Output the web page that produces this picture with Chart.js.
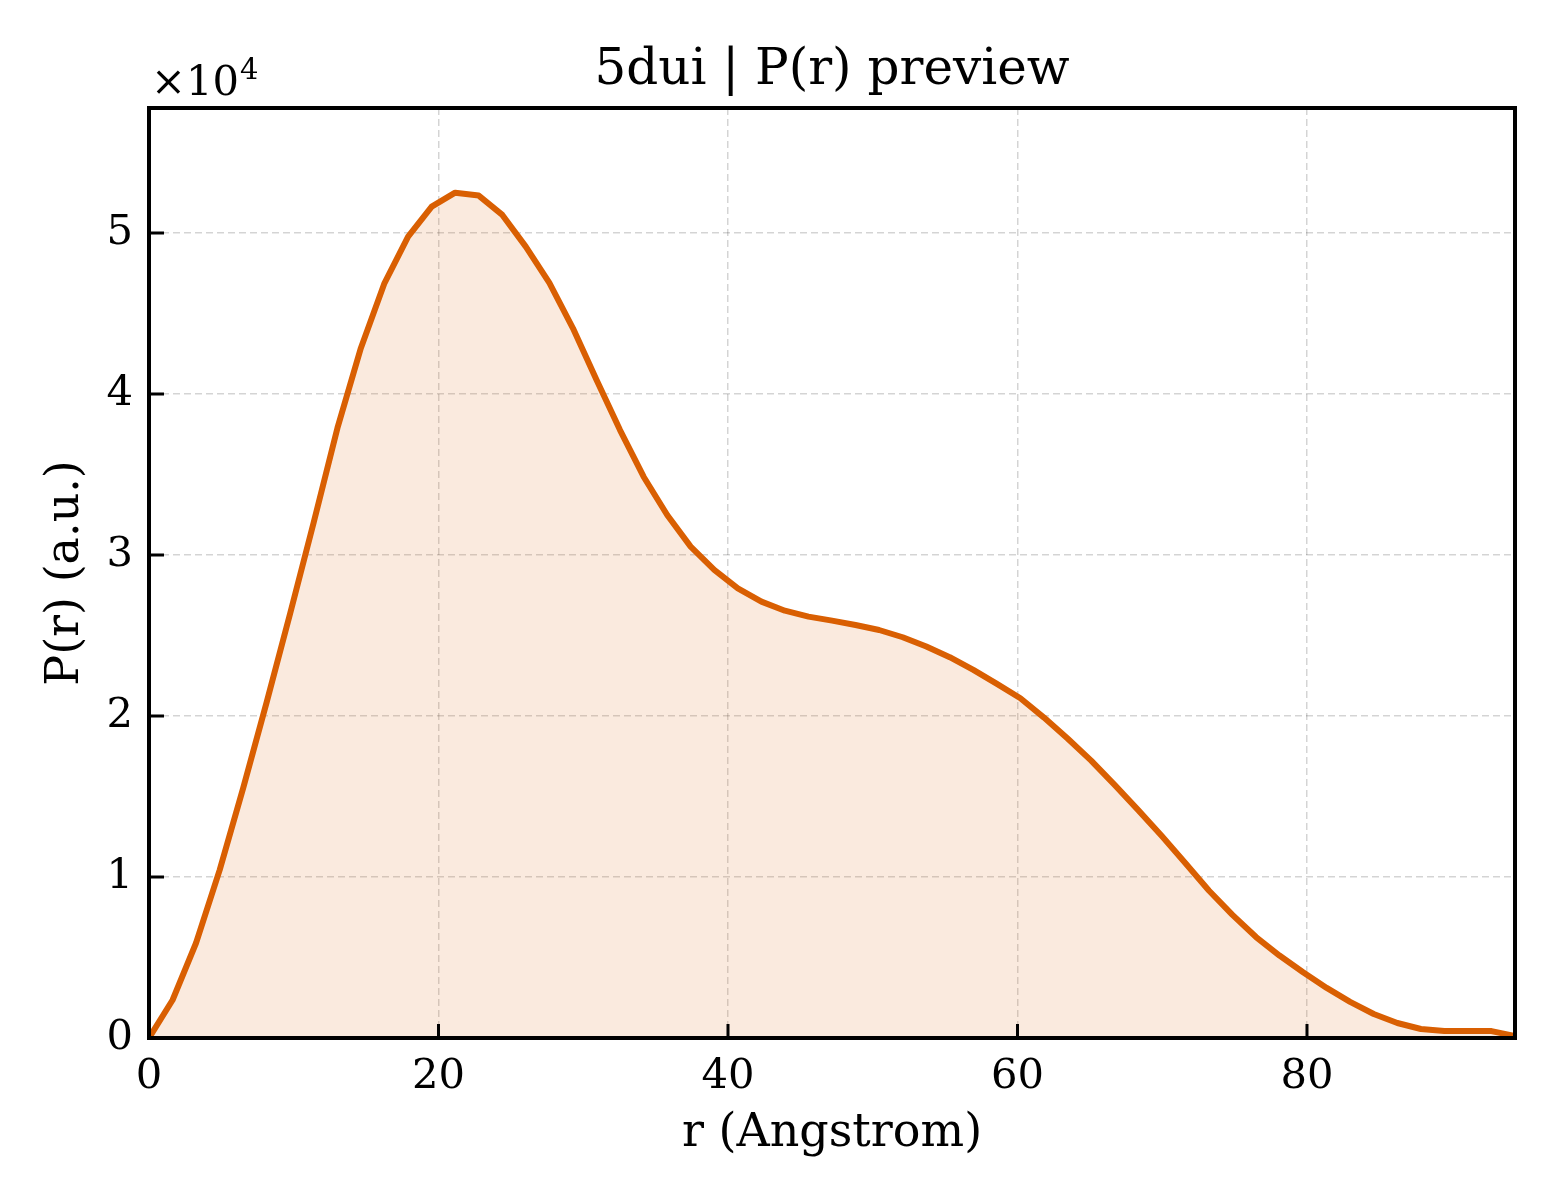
<!DOCTYPE html>
<html>
<head>
<meta charset="utf-8">
<title>5dui | P(r) preview</title>
<script src="https://cdn.jsdelivr.net/npm/chart.js@4.4.1/dist/chart.umd.min.js"></script>
<style>
    html, body { margin: 0; padding: 0; background: #fff; }
    #wrap { width: 1560px; height: 1200px; position: relative; }
</style>
</head>
<body>
<div id="wrap"><canvas id="prChart"></canvas></div>
<script>
// r grid (Angstrom)
const rValues = [
    0.00, 1.63, 3.25, 4.88, 6.51, 8.14, 9.76, 11.39, 13.02, 14.64,
    16.27, 17.90, 19.53, 21.15, 22.78, 24.41, 26.03, 27.66, 29.29, 30.92,
    32.54, 34.17, 35.80, 37.42, 39.05, 40.68, 42.31, 43.93, 45.56, 47.19,
    48.81, 50.44, 52.07, 53.70, 55.32, 56.95, 58.58, 60.20, 61.83, 63.46,
    65.09, 66.71, 68.34, 69.97, 71.59, 73.22, 74.85, 76.48, 78.10, 79.73,
    81.36, 82.98, 84.61, 86.24, 87.87, 89.49, 91.12, 92.75, 94.37
];

// P(r) values (a.u.)
const prValues = [
    0, 2360, 5900, 10430, 15530, 20890, 26400, 32070, 37890, 42860,
    46890, 49770, 51630, 52500, 52320, 51120, 49150, 46900, 44080, 40870,
    37760, 34860, 32480, 30520, 29070, 27930, 27100, 26540, 26170, 25920,
    25650, 25340, 24890, 24310, 23650, 22860, 21990, 21100, 19900, 18600,
    17230, 15720, 14150, 12540, 10870, 9160, 7650, 6270, 5120, 4080,
    3110, 2240, 1490, 930, 560, 430, 430, 430, 120
];

const xTicks = [0, 20, 40, 60, 80];
const yTicks = [0, 10000, 20000, 30000, 40000, 50000];

const TITLE = '5dui | P(r) preview';
const LINE_COLOR = '#d95f02';
const FONT = 'DejaVu Serif';

/**
 * Title, frame, inward tick marks and the x10^4 offset label
 */
const framePlugin = {
    id: 'frame',
    afterDraw(chart) {
        const { ctx, chartArea: a, scales } = chart;
        ctx.save();

        // tick marks pointing inward
        ctx.strokeStyle = '#000';
        ctx.lineWidth = 3;
        ctx.beginPath();
        xTicks.forEach(v => {
            const px = scales.x.getPixelForValue(v);
            ctx.moveTo(px, a.bottom);
            ctx.lineTo(px, a.bottom - 14);
        });
        yTicks.forEach(v => {
            const py = scales.y.getPixelForValue(v);
            ctx.moveTo(a.left, py);
            ctx.lineTo(a.left + 15, py);
        });
        ctx.stroke();

        // full box
        ctx.lineWidth = 4;
        ctx.strokeRect(a.left, a.top, a.right - a.left, a.bottom - a.top);

        ctx.fillStyle = '#000';
        ctx.textBaseline = 'alphabetic';

        // title centred over the plot area
        ctx.textAlign = 'center';
        ctx.font = '50px "' + FONT + '"';
        ctx.fillText(TITLE, (a.left + a.right) / 2, a.top - 24);

        // offset text
        ctx.textAlign = 'left';
        ctx.font = '41.67px "' + FONT + '"';
        const base = '\u00d710';
        ctx.fillText(base, a.left + 2, a.top - 13);
        const w = ctx.measureText(base).width;
        ctx.font = '29px "' + FONT + '"';
        ctx.fillText('4', a.left + 2 + w + 1, a.top - 29);

        ctx.restore();
    }
};

document.addEventListener('DOMContentLoaded', function() {
    const ctx = document.getElementById('prChart');

    const points = rValues.map((r, i) => ({ x: r, y: prValues[i] }));

    new Chart(ctx.getContext('2d'), {
        type: 'line',
        data: {
            datasets: [{
                data: points,
                borderColor: LINE_COLOR,
                backgroundColor: 'rgba(217, 95, 2, 0.13)',
                borderWidth: 6,
                fill: 'origin',
                tension: 0,
                pointRadius: 0,
                borderJoinStyle: 'round'
            }]
        },
        options: {
            responsive: true,
            maintainAspectRatio: false,
            devicePixelRatio: 1,
            animation: false,
            layout: {
                padding: { left: 0, right: 45, top: 108, bottom: 0 }
            },
            plugins: {
                legend: { display: false },
                tooltip: { enabled: false },
                title: { display: false }
            },
            scales: {
                x: {
                    type: 'linear',
                    min: 0,
                    max: 94.37,
                    afterFit: function(scale) { scale.height = 162; },
                    afterBuildTicks: function(scale) {
                        scale.ticks = xTicks.map(v => ({ value: v }));
                    },
                    grid: {
                        color: 'rgba(0, 0, 0, 0.17)',
                        lineWidth: 1.5,
                        drawTicks: false
                    },
                    border: { display: true, color: '#000', width: 4, dash: [7, 4] },
                    ticks: {
                        autoSkip: false,
                        maxRotation: 0,
                        padding: 14,
                        color: '#000',
                        font: { family: FONT, size: 41.67 }
                    },
                    title: {
                        display: true,
                        text: 'r (Angstrom)',
                        color: '#000',
                        font: { family: FONT, size: 46 },
                        padding: { top: 0, bottom: 38 }
                    }
                },
                y: {
                    type: 'linear',
                    min: 0,
                    max: 57760,
                    afterFit: function(scale) { scale.width = 149; },
                    afterBuildTicks: function(scale) {
                        scale.ticks = yTicks.map(v => ({ value: v }));
                    },
                    grid: {
                        color: 'rgba(0, 0, 0, 0.17)',
                        lineWidth: 1.5,
                        drawTicks: false
                    },
                    border: { display: true, color: '#000', width: 4, dash: [7, 4] },
                    ticks: {
                        autoSkip: false,
                        padding: 16,
                        color: '#000',
                        font: { family: FONT, size: 41.67 },
                        callback: function(value) {
                            return String(value / 10000);
                        }
                    },
                    title: {
                        display: true,
                        text: 'P(r) (a.u.)',
                        color: '#000',
                        font: { family: FONT, size: 46 },
                        padding: { top: 38, bottom: 0 }
                    }
                }
            }
        },
        plugins: [framePlugin]
    });
});
</script>
</body>
</html>
